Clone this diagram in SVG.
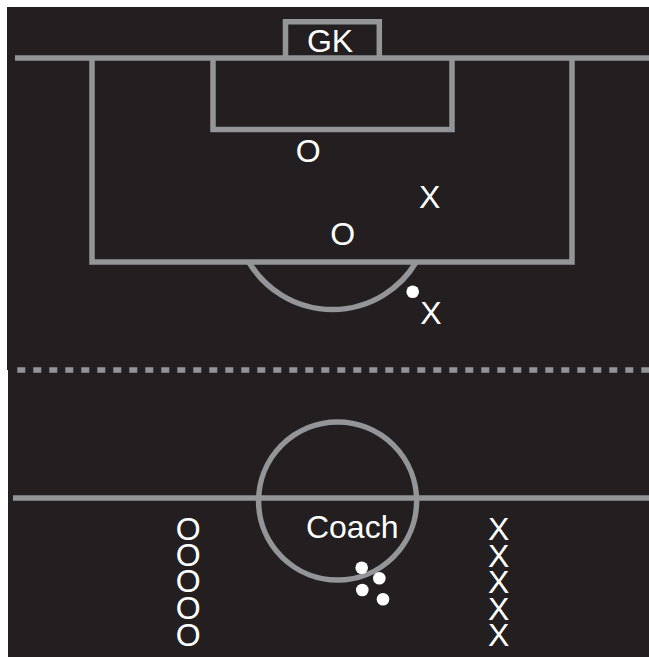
<svg xmlns="http://www.w3.org/2000/svg" width="649" height="657" viewBox="0 0 649 657">
  <style>
    .line { fill: none; stroke: #939598; stroke-width: 5.5; }
    .lbl { font-family: "Liberation Sans", Arial, sans-serif; font-size: 32px; fill: #ffffff; text-anchor: middle; }
    .ball { fill: #ffffff; }
  </style>
  <rect width="649" height="657" fill="#ffffff"/>
  <rect x="7" y="7" width="642" height="363" fill="#231f20"/>
  <rect x="8" y="369" width="641" height="288" fill="#231f20"/>

  <g id="field">
    <line class="line" x1="15" y1="58" x2="649" y2="58"/>
    <polyline class="line" points="285.5,58 285.5,21.7 379.3,21.7 379.3,58"/>
    <polyline class="line" points="92,58 92,262 572,262 572,58"/>
    <polyline class="line" points="213,58 213,129.5 452,129.5 452,58"/>
    <path class="line" d="M248.8,262 A97.5,97.5 0 0 0 416.2,262"/>
    <line class="line" x1="17.3" y1="370" x2="649" y2="370" stroke-dasharray="8 8"/>
    <line class="line" x1="13" y1="498" x2="649" y2="498"/>
    <circle class="line" cx="337.6" cy="501" r="79"/>
  </g>

  <g id="gk"><text class="lbl" x="330" y="52.3">GK</text></g>
  <g id="defender-1"><text class="lbl" x="308.3" y="161.5">O</text></g>
  <g id="defender-2"><text class="lbl" x="342.7" y="244.8">O</text></g>
  <g id="attacker-1"><text class="lbl" x="429.7" y="207.7">X</text></g>
  <g id="attacker-2"><text class="lbl" x="431" y="324.3">X</text></g>
  <g id="ball-1"><circle class="ball" cx="412.7" cy="291.7" r="6.3"/></g>

  <g id="coach">
    <text class="lbl" x="352.2" y="537.7">Coach</text>
  </g>
  <g id="coach-balls">
    <circle class="ball" cx="361.7" cy="567.7" r="6.3"/>
    <circle class="ball" cx="379.3" cy="578.3" r="6.3"/>
    <circle class="ball" cx="362.3" cy="590" r="6.3"/>
    <circle class="ball" cx="383" cy="599.3" r="6.3"/>
  </g>

  <g id="o-queue">
    <text class="lbl" x="188.3" y="539.5">O</text>
    <text class="lbl" x="188.3" y="565.8">O</text>
    <text class="lbl" x="188.3" y="592.2">O</text>
    <text class="lbl" x="188.3" y="618.8">O</text>
    <text class="lbl" x="188.3" y="645.5">O</text>
  </g>
  <g id="x-queue">
    <text class="lbl" x="498.7" y="540">X</text>
    <text class="lbl" x="498.7" y="566.5">X</text>
    <text class="lbl" x="498.7" y="593">X</text>
    <text class="lbl" x="498.7" y="619.5">X</text>
    <text class="lbl" x="498.7" y="646">X</text>
  </g>
  <g id="connectors"/>
</svg>
